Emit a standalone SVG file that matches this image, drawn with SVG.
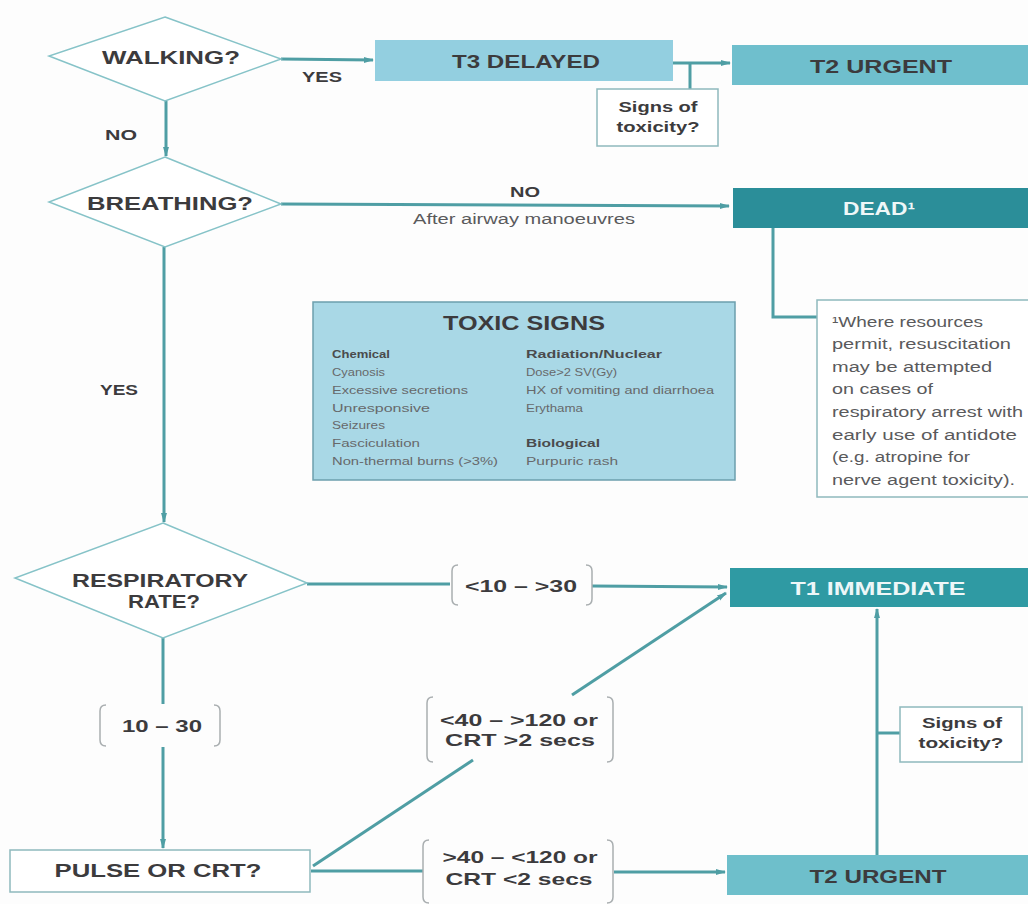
<svg xmlns="http://www.w3.org/2000/svg" width="1028" height="904" viewBox="0 0 1028 904">
<defs>
<marker id="ah" markerWidth="10" markerHeight="8" refX="9" refY="4" orient="auto" markerUnits="userSpaceOnUse">
<path d="M0,1 L10,4 L0,7 Z" fill="#4f9ea4"/>
</marker>
<style>
.bg{fill:#fdfdfd}
.dia{fill:#ffffff;stroke:#86c3c8;stroke-width:1.5}
.t{font-family:"Liberation Sans",Arial,sans-serif;font-weight:bold;fill:#3c3b3d}
.w{font-family:"Liberation Sans",Arial,sans-serif;font-weight:bold;fill:#eef7f8}
.n{font-family:"Liberation Sans",Arial,sans-serif;fill:#5a5a5c}
.s{font-family:"Liberation Sans",Arial,sans-serif;fill:#67696b;font-size:11px}
.sb{font-family:"Liberation Sans",Arial,sans-serif;fill:#4a4b4d;font-size:11px;font-weight:bold}
.c{fill:none;stroke:#4f9ea4;stroke-width:3}
.br{fill:none;stroke:#a9aeb0;stroke-width:1.5}
.box{fill:#ffffff;stroke:#8fb9bd;stroke-width:1.5}
</style>
</defs>
<rect class="bg" x="0" y="0" width="1028" height="904"/>

<g id="connectors">
<line class="c" x1="281" y1="59" x2="373" y2="60" marker-end="url(#ah)"/>
<line class="c" x1="673" y1="63" x2="730" y2="63" marker-end="url(#ah)"/>
<line class="c" x1="690" y1="63" x2="690" y2="89"/>
<line class="c" x1="166" y1="101" x2="166" y2="156" marker-end="url(#ah)"/>
<line class="c" x1="281" y1="204" x2="729" y2="206" marker-end="url(#ah)"/>
<polyline class="c" points="773,228 773,317 817,317"/>
<line class="c" x1="164" y1="247" x2="164" y2="522" marker-end="url(#ah)"/>
<line class="c" x1="307" y1="584" x2="450" y2="584"/>
<line class="c" x1="592" y1="586" x2="727" y2="587" marker-end="url(#ah)"/>
<line class="c" x1="163" y1="638" x2="163" y2="704"/>
<line class="c" x1="163" y1="747" x2="163" y2="848" marker-end="url(#ah)"/>
<line class="c" x1="313" y1="866" x2="473" y2="760"/>
<line class="c" x1="572" y1="695" x2="726" y2="593" marker-end="url(#ah)"/>
<line class="c" x1="311" y1="871" x2="423" y2="871"/>
<line class="c" x1="614" y1="872" x2="725" y2="872" marker-end="url(#ah)"/>
<line class="c" x1="877" y1="855" x2="877" y2="609" marker-end="url(#ah)"/>
<line class="c" x1="877" y1="733" x2="900" y2="733"/>
</g>

<g id="walking">
<polygon class="dia" points="165,17 281,59 165,101 49,56"/>
<text class="t" x="171" y="64" font-size="18" text-anchor="middle" textLength="138" lengthAdjust="spacingAndGlyphs">WALKING?</text>
</g>
<g id="label-yes-1"><text class="t" x="322" y="82" font-size="14" text-anchor="middle" textLength="40" lengthAdjust="spacingAndGlyphs">YES</text></g>
<g id="label-no-1"><text class="t" x="121" y="140" font-size="14" text-anchor="middle" textLength="32" lengthAdjust="spacingAndGlyphs">NO</text></g>

<g id="t3-delayed">
<rect x="375" y="40" width="298" height="41" fill="#93cfe0"/>
<text class="t" x="526" y="68" font-size="18" text-anchor="middle" textLength="148" lengthAdjust="spacingAndGlyphs">T3 DELAYED</text>
</g>
<g id="t2-urgent-top">
<rect x="732" y="45" width="296" height="40" fill="#6fbfcd"/>
<text class="t" x="881" y="73" font-size="18" text-anchor="middle" textLength="142" lengthAdjust="spacingAndGlyphs">T2 URGENT</text>
</g>
<g id="signs-top">
<rect class="box" x="597" y="89" width="121" height="57"/>
<text class="t" x="658" y="112" font-size="14" text-anchor="middle" textLength="79" lengthAdjust="spacingAndGlyphs">Signs of</text>
<text class="t" x="658" y="132" font-size="14" text-anchor="middle" textLength="83" lengthAdjust="spacingAndGlyphs">toxicity?</text>
</g>

<g id="breathing">
<polygon class="dia" points="165,157 281,204 165,247 49,202"/>
<text class="t" x="170" y="210" font-size="18" text-anchor="middle" textLength="166" lengthAdjust="spacingAndGlyphs">BREATHING?</text>
</g>
<g id="label-no-2"><text class="t" x="525" y="197" font-size="14" text-anchor="middle" textLength="30" lengthAdjust="spacingAndGlyphs">NO</text></g>
<g id="label-airway"><text class="n" x="524" y="224" font-size="14" text-anchor="middle" textLength="222" lengthAdjust="spacingAndGlyphs">After airway manoeuvres</text></g>

<g id="dead">
<rect x="733" y="188" width="295" height="40" fill="#2b8e99"/>
<text class="w" x="879" y="215" font-size="18" text-anchor="middle" textLength="72" lengthAdjust="spacingAndGlyphs">DEAD¹</text>
</g>

<g id="footnote">
<rect class="box" x="817" y="300" width="220" height="197"/>
<text class="n" font-size="14">
<tspan x="832" y="327" textLength="151" lengthAdjust="spacingAndGlyphs">¹Where resources</tspan>
<tspan x="832" y="349" textLength="179" lengthAdjust="spacingAndGlyphs">permit, resuscitation</tspan>
<tspan x="832" y="372" textLength="160" lengthAdjust="spacingAndGlyphs">may be attempted</tspan>
<tspan x="832" y="394" textLength="101" lengthAdjust="spacingAndGlyphs">on cases of</tspan>
<tspan x="832" y="417" textLength="191" lengthAdjust="spacingAndGlyphs">respiratory arrest with</tspan>
<tspan x="832" y="440" textLength="185" lengthAdjust="spacingAndGlyphs">early use of antidote</tspan>
<tspan x="832" y="462" textLength="138" lengthAdjust="spacingAndGlyphs">(e.g. atropine for</tspan>
<tspan x="832" y="485" textLength="183" lengthAdjust="spacingAndGlyphs">nerve agent toxicity).</tspan>
</text>
</g>

<g id="toxic-signs">
<rect x="313" y="302" width="422" height="178" fill="#a9d8e6" stroke="#6c9fad" stroke-width="1.5"/>
<text class="t" x="524" y="330" font-size="21" text-anchor="middle" textLength="162" lengthAdjust="spacingAndGlyphs">TOXIC SIGNS</text>
<text class="sb" x="332" y="358" textLength="58" lengthAdjust="spacingAndGlyphs">Chemical</text>
<text class="s" x="332" y="376" textLength="53" lengthAdjust="spacingAndGlyphs">Cyanosis</text>
<text class="s" x="332" y="394" textLength="136" lengthAdjust="spacingAndGlyphs">Excessive secretions</text>
<text class="s" x="332" y="412" textLength="98" lengthAdjust="spacingAndGlyphs">Unresponsive</text>
<text class="s" x="332" y="429" textLength="53" lengthAdjust="spacingAndGlyphs">Seizures</text>
<text class="s" x="332" y="447" textLength="88" lengthAdjust="spacingAndGlyphs">Fasciculation</text>
<text class="s" x="332" y="465" textLength="166" lengthAdjust="spacingAndGlyphs">Non-thermal burns (&gt;3%)</text>
<text class="sb" x="526" y="358" textLength="136" lengthAdjust="spacingAndGlyphs">Radiation/Nuclear</text>
<text class="s" x="526" y="376" textLength="91" lengthAdjust="spacingAndGlyphs">Dose&gt;2 SV(Gy)</text>
<text class="s" x="526" y="394" textLength="188" lengthAdjust="spacingAndGlyphs">HX of vomiting and diarrhoea</text>
<text class="s" x="526" y="412" textLength="57" lengthAdjust="spacingAndGlyphs">Erythama</text>
<text class="sb" x="526" y="447" textLength="74" lengthAdjust="spacingAndGlyphs">Biological</text>
<text class="s" x="526" y="465" textLength="92" lengthAdjust="spacingAndGlyphs">Purpuric rash</text>
</g>

<g id="label-yes-2"><text class="t" x="119" y="395" font-size="14" text-anchor="middle" textLength="38" lengthAdjust="spacingAndGlyphs">YES</text></g>

<g id="respiratory-rate">
<polygon class="dia" points="163,523 307,583 163,638 15,578"/>
<text class="t" x="160" y="587" font-size="18" text-anchor="middle" textLength="176" lengthAdjust="spacingAndGlyphs">RESPIRATORY</text>
<text class="t" x="164" y="608" font-size="18" text-anchor="middle" textLength="72" lengthAdjust="spacingAndGlyphs">RATE?</text>
</g>

<g id="label-rr-high">
<path class="br" d="M458,565 Q452,565 452,571 L452,599 Q452,605 458,605"/>
<path class="br" d="M586,565 Q592,565 592,571 L592,599 Q592,605 586,605"/>
<text class="t" x="521" y="592" font-size="17" text-anchor="middle" textLength="112" lengthAdjust="spacingAndGlyphs">&lt;10 – &gt;30</text>
</g>

<g id="t1-immediate">
<rect x="730" y="568" width="298" height="39" fill="#2f9aa3"/>
<text class="w" x="878" y="595" font-size="18" text-anchor="middle" textLength="175" lengthAdjust="spacingAndGlyphs">T1 IMMEDIATE</text>
</g>

<g id="label-rr-normal">
<path class="br" d="M106,705 Q100,705 100,711 L100,740 Q100,746 106,746"/>
<path class="br" d="M214,705 Q220,705 220,711 L220,740 Q220,746 214,746"/>
<text class="t" x="162" y="732" font-size="17" text-anchor="middle" textLength="80" lengthAdjust="spacingAndGlyphs">10 – 30</text>
</g>

<g id="label-pulse-abnormal">
<path class="br" d="M433,697 Q427,697 427,703 L427,756 Q427,762 433,762"/>
<path class="br" d="M607,697 Q613,697 613,703 L613,756 Q613,762 607,762"/>
<text class="t" x="519" y="726" font-size="17" text-anchor="middle" textLength="158" lengthAdjust="spacingAndGlyphs">&lt;40 – &gt;120 or</text>
<text class="t" x="520" y="746" font-size="17" text-anchor="middle" textLength="150" lengthAdjust="spacingAndGlyphs">CRT &gt;2 secs</text>
</g>

<g id="pulse-crt">
<rect class="box" x="10" y="850" width="300" height="42"/>
<text class="t" x="158" y="877" font-size="18" text-anchor="middle" textLength="207" lengthAdjust="spacingAndGlyphs">PULSE OR CRT?</text>
</g>

<g id="label-pulse-normal">
<path class="br" d="M429,840 Q423,840 423,846 L423,897 Q423,903 429,903"/>
<path class="br" d="M607,840 Q613,840 613,846 L613,897 Q613,903 607,903"/>
<text class="t" x="520" y="863" font-size="17" text-anchor="middle" textLength="155" lengthAdjust="spacingAndGlyphs">&gt;40 – &lt;120 or</text>
<text class="t" x="519" y="885" font-size="17" text-anchor="middle" textLength="147" lengthAdjust="spacingAndGlyphs">CRT &lt;2 secs</text>
</g>

<g id="t2-urgent-bottom">
<rect x="727" y="855" width="301" height="40" fill="#6ebfcb"/>
<text class="t" x="878" y="883" font-size="18" text-anchor="middle" textLength="137" lengthAdjust="spacingAndGlyphs">T2 URGENT</text>
</g>

<g id="signs-bottom">
<rect class="box" x="900" y="707" width="122" height="55"/>
<text class="t" x="962" y="728" font-size="14" text-anchor="middle" textLength="80" lengthAdjust="spacingAndGlyphs">Signs of</text>
<text class="t" x="961" y="748" font-size="14" text-anchor="middle" textLength="85" lengthAdjust="spacingAndGlyphs">toxicity?</text>
</g>
</svg>
